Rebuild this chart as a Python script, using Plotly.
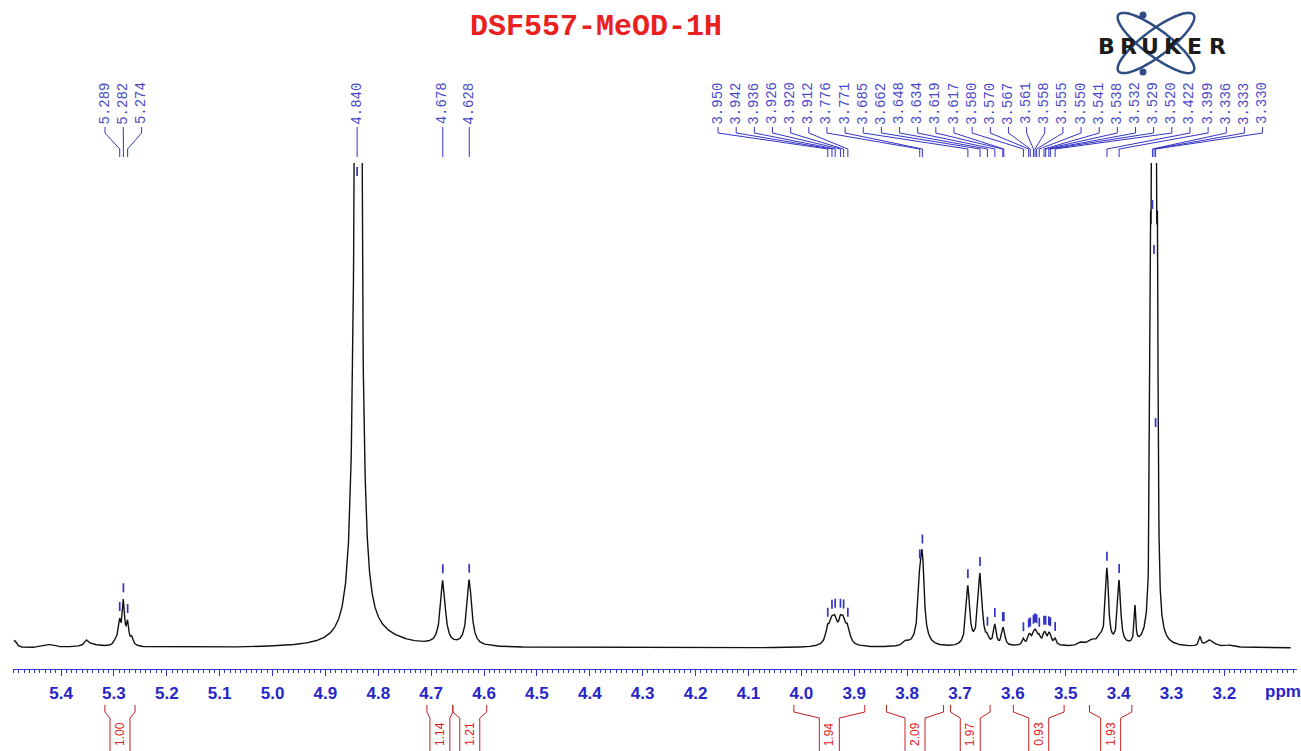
import numpy as np
import plotly.graph_objects as go

# ---------------- data ----------------
# peak list used to build the 1H spectrum: position (ppm), height, half-width (ppm)
peak_ppm = [5.487, 5.421, 5.351, 5.345, 5.296, 5.289, 5.282, 5.274, 5.266, 5.282,
            4.8385, 4.800, 4.678, 4.628,
            3.950, 3.942, 3.936, 3.926, 3.920, 3.912, 3.931, 3.802,
            3.776, 3.771, 3.773, 3.685, 3.662, 3.648, 3.634, 3.619, 3.617,
            3.580, 3.570, 3.567, 3.561, 3.558, 3.555, 3.550, 3.541, 3.538, 3.532, 3.529, 3.520, 3.550,
            3.470, 3.450, 3.435, 3.422, 3.399, 3.369,
            3.3395, 3.3360, 3.3330, 3.3300, 3.3265, 3.333,
            3.246, 3.227, 3.190]
peak_height = [7, 3, 5, 3, 5, 19, 38, 19, 7, 6,
               1400, 8, 64, 66,
               15, 17, 17, 17, 17, 15, 4, 4,
               48, 72, 6, 59, 72, 6, 20, 10, 10,
               6, 6, 6, 7, 7, 7, 6, 7, 7, 7, 7, 6, 4,
               4, 5, 7, 76, 64, 36,
               280, 650, 850, 650, 280, 10,
               9, 7, 2]
peak_hwhm = [0.004, 0.012, 0.004, 0.02, 0.004, 0.0025, 0.0025, 0.0025, 0.003, 0.010,
             0.0050, 0.060, 0.0055, 0.0055,
             0.0045, 0.0045, 0.0045, 0.0045, 0.0045, 0.0045, 0.020, 0.006,
             0.004, 0.004, 0.015, 0.004, 0.0045, 0.003, 0.003, 0.003, 0.003,
             0.0025, 0.0025, 0.0025, 0.0025, 0.0025, 0.0025, 0.0025, 0.0025, 0.0025, 0.0025, 0.0025, 0.0025, 0.03,
             0.008, 0.008, 0.006, 0.0035, 0.0035, 0.0018,
             0.0014, 0.0014, 0.0014, 0.0014, 0.0014, 0.012,
             0.0025, 0.010, 0.010]

# peak-pick labels (three groups)
labels_group1 = [5.289, 5.282, 5.274]
labels_single = [4.840, 4.678, 4.628]
labels_group3 = [3.950, 3.942, 3.936, 3.926, 3.920, 3.912, 3.776, 3.771, 3.685, 3.662,
                 3.648, 3.634, 3.619, 3.617, 3.580, 3.570, 3.567, 3.561, 3.558, 3.555,
                 3.550, 3.541, 3.538, 3.532, 3.529, 3.520, 3.422, 3.399, 3.336, 3.333, 3.330]
# pick markers of peaks that run off the top are drawn on the line (pixel row)
clipped_marker_row = {4.840: 172, 3.336: 205, 3.333: 250, 3.330: 423}

# integrals
integral_start = [5.317, 4.708, 4.659, 4.014, 3.839, 3.718, 3.599, 3.455]
integral_end = [5.260, 4.659, 4.595, 3.880, 3.731, 3.643, 3.503, 3.375]
integral_value = ["1.00", "1.14", "1.21", "1.94", "2.09", "1.97", "0.93", "1.93"]

tick_values = [5.4, 5.3, 5.2, 5.1, 5.0, 4.9, 4.8, 4.7, 4.6, 4.5, 4.4, 4.3,
               4.2, 4.1, 4.0, 3.9, 3.8, 3.7, 3.6, 3.5, 3.4, 3.3, 3.2]
tick_text = [f"{v:.1f}" for v in tick_values]

title_text = "DSF557-MeOD-1H"

# ---------------- layout constants ----------------
W, H = 1301, 751
ML, MR, MT, MB = 13, 4, 163, 82
PW, PH = W - ML - MR, H - MT - MB
X_LEFT, X_RIGHT = 5.4908, 3.0626
BASE_Y = 648                      # pixel row of the spectrum baseline
Y_MIN, Y_MAX = -(H - MB - BASE_Y), BASE_Y - MT

BLUE = "#3434c4"
LBLUE = "#4a4ac8"
RED = "#e01818"


def px_of_ppm(p):
    return ML + (X_LEFT - p) / (X_LEFT - X_RIGHT) * PW


def ppm_of_px(x):
    return X_LEFT - (x - ML) / PW * (X_LEFT - X_RIGHT)


def py(y):
    return (H - MB - y) / PH


def pxp(x):
    return (x - ML) / PW


# ---------------- spectrum ----------------
ppm = np.arange(X_RIGHT + 0.012, X_LEFT - 0.002, 0.0004)
inten = np.zeros_like(ppm)
for c, h, w in zip(peak_ppm, peak_height, peak_hwhm):
    inten += h / (1.0 + ((ppm - c) / w) ** 2)

fig = go.Figure()
fig.add_trace(go.Scatter(x=ppm, y=inten, mode="lines",
                         line=dict(color="#111111", width=1.4),
                         hoverinfo="skip"))

shapes = []
annotations = []

# ---------------- peak markers above peaks ----------------
all_labels = labels_group1 + labels_single + labels_group3
mk = []
for p in all_labels:
    if p in clipped_marker_row:
        top = BASE_Y - clipped_marker_row[p] + 5
    else:
        v = float(np.interp(p, ppm, inten))
        top = v + 16
    bot = top - 9
    mk.append(f"M{p},{bot} L{p},{top}")
shapes.append(dict(type="path", path=" ".join(mk), xref="x", yref="y",
                   line=dict(color=BLUE, width=1.7)))


# ---------------- peak labels with connectors ----------------
def add_group(vals, center_px, spacing):
    n = len(vals)
    segs = []
    for i, p in enumerate(vals):
        lx = center_px + (i - (n - 1) / 2) * spacing
        lp = ppm_of_px(lx)
        annotations.append(dict(x=lp, xref="x", y=py(103.5), yref="paper",
                                text=f"{p:.3f}", textangle=-90, showarrow=False,
                                xanchor="center", yanchor="middle",
                                font=dict(family="Liberation Mono", size=14, color=LBLUE)))
        segs.append(f"M{lp},{py(127)} L{lp},{py(133)} L{p},{py(149)} L{p},{py(157)}")
    shapes.append(dict(type="path", path=" ".join(segs), xref="x", yref="paper",
                       line=dict(color=BLUE, width=1)))


add_group(labels_group1, 123.3, 18.3)
for p in labels_single:
    add_group([p], px_of_ppm(p), 0)
add_group(labels_group3, 990.3, 18.15)

# ---------------- integrals ----------------
for s, e, val in zip(integral_start, integral_end, integral_value):
    xs, xe = px_of_ppm(s), px_of_ppm(e)
    c = (xs + xe) / 2
    il, ir = max(xs + 3, c - 10), min(xe - 3, c + 10)
    path = (f"M{ppm_of_px(xs)},{py(705)} L{ppm_of_px(xs)},{py(712)} "
            f"L{ppm_of_px(il)},{py(718)} L{ppm_of_px(il)},{py(751)} "
            f"M{ppm_of_px(xe)},{py(705)} L{ppm_of_px(xe)},{py(712)} "
            f"L{ppm_of_px(ir)},{py(718)} L{ppm_of_px(ir)},{py(751)}")
    shapes.append(dict(type="path", path=path, xref="x", yref="paper",
                       line=dict(color="#c42020", width=1)))
    annotations.append(dict(x=ppm_of_px(c), xref="x", y=py(734), yref="paper",
                            text=val, textangle=-90, showarrow=False,
                            xanchor="center", yanchor="middle",
                            font=dict(family="Liberation Sans", size=12, color=RED)))

# ---------------- title, ppm label, logo ----------------
annotations.append(dict(x=pxp(596), xref="paper", y=py(27), yref="paper",
                        text=f"<b>{title_text}</b>", showarrow=False,
                        xanchor="center", yanchor="middle",
                        font=dict(family="Liberation Mono", size=30, color="#e82020")))
annotations.append(dict(x=pxp(1283), xref="paper", y=py(691), yref="paper",
                        text="<b>ppm</b>", showarrow=False,
                        xanchor="center", yanchor="middle",
                        font=dict(family="Liberation Sans", size=17, color="#2626c8")))

# Bruker logo: two tilted orbits, two dots, spaced letters
t = np.linspace(0, 2 * np.pi, 90)
cx, cy, a, b = 1156, 43, 47, 13
for ang in (np.deg2rad(37), np.deg2rad(-37)):
    xs_ = cx + a * np.cos(t) * np.cos(ang) - b * np.sin(t) * np.sin(ang)
    ys_ = cy + a * np.cos(t) * np.sin(ang) + b * np.sin(t) * np.cos(ang)
    pth = "M" + " L".join(f"{pxp(x_)},{py(y_)}" for x_, y_ in zip(xs_, ys_)) + " Z"
    shapes.append(dict(type="path", path=pth, xref="paper", yref="paper",
                       line=dict(color="#2f4d85", width=2.5)))
for dx, dy in ((1143, 15), (1143, 72)):
    shapes.append(dict(type="circle", xref="paper", yref="paper",
                       x0=pxp(dx - 3.5), x1=pxp(dx + 3.5), y0=py(dy + 3.5), y1=py(dy - 3.5),
                       fillcolor="#2f4d85", line=dict(width=0)))
for i, ch in enumerate("BRUKER"):
    annotations.append(dict(x=pxp(1106 + i * 22.2), xref="paper", y=py(46.5), yref="paper",
                            text=f"<b>{ch}</b>", showarrow=False,
                            xanchor="center", yanchor="middle",
                            font=dict(family="DejaVu Sans", size=22, color="#1c1c1c")))

fig.update_layout(
    width=W, height=H,
    margin=dict(l=ML, r=MR, t=MT, b=MB, pad=0),
    plot_bgcolor="white", paper_bgcolor="white",
    showlegend=False,
    shapes=shapes, annotations=annotations,
    xaxis=dict(range=[X_LEFT, X_RIGHT], tickmode="array", tickvals=tick_values,
               ticktext=tick_text, showgrid=False, zeroline=False,
               showline=True, linecolor=BLUE, linewidth=1,
               ticks="outside", ticklen=6, tickwidth=1, tickcolor=BLUE,
               tickfont=dict(family="Liberation Sans", size=17, color="#2626c8", weight="bold"),
               ticklabelstandoff=3,
               minor=dict(tickmode="linear", tick0=0, dtick=0.01, ticks="outside",
                          ticklen=3, tickcolor=BLUE, tickwidth=1, showgrid=False)),
    yaxis=dict(range=[Y_MIN, Y_MAX], visible=False, showgrid=False, zeroline=False),
)

fig.write_html("out.html")
